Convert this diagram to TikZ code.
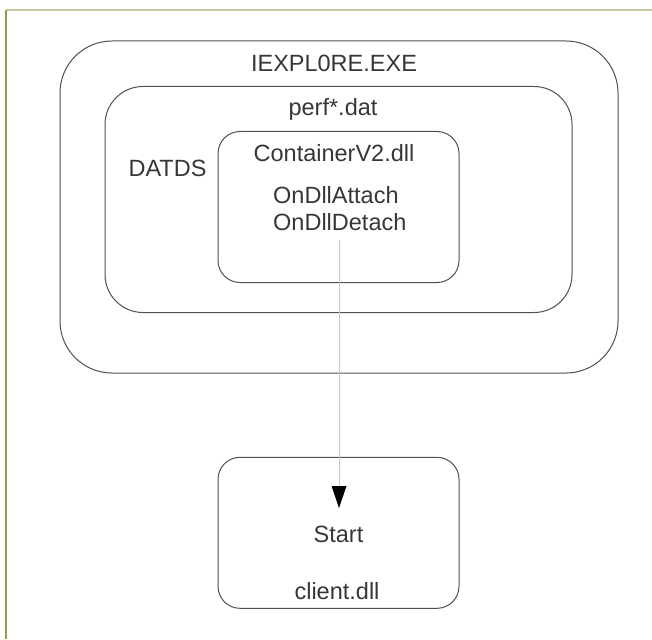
\documentclass[tikz,border=0pt]{standalone}
\usepackage{fontspec}
\setmainfont{Liberation Sans}
\usetikzlibrary{arrows.meta}
\definecolor{boxline}{RGB}{80,80,80}
\definecolor{txt}{RGB}{55,55,55}
\definecolor{topframe}{RGB}{196,200,160}
\definecolor{leftframe}{RGB}{138,160,80}
\definecolor{arrline}{RGB}{200,200,200}
\begin{document}
\begin{tikzpicture}[x=1pt,y=-1pt,
  box/.style={draw=boxline,line width=1pt,rectangle,inner sep=0pt},
  lbl/.style={text=txt,font=\fontsize{23.5}{27}\selectfont,inner sep=0pt,anchor=base}]
\useasboundingbox (0,0) rectangle (652,639);
\fill[white] (0,0) rectangle (652,639);
% frame
\draw[topframe,line width=2pt] (6,10) -- (652,10);
\draw[leftframe,line width=1.5pt] (6,10) -- (6,639);
% boxes
\node[box,rounded corners=52pt,minimum width=558pt,minimum height=332pt] (iexp) at (339,207) {};
\node[box,rounded corners=38pt,minimum width=467pt,minimum height=226pt] (perf) at (338.5,199.5) {};
\node[box,rounded corners=22pt,minimum width=241pt,minimum height=151pt] (cont) at (338.5,207) {};
\node[box,rounded corners=22pt,minimum width=241pt,minimum height=151pt] (client) at (338.5,532.8) {};
% labels
\node[lbl] (tiexp) at (334,71.7) {IEXPL0RE.EXE};
\node[lbl] (tperf) at (333,116) {perf*.dat};
\node[lbl] (tdatds) at (167.5,176.7) {DATDS};
\node[lbl] (tcont) at (334,161.7) {ContainerV2.dll};
\node[lbl,anchor=base west] (tatt) at (273,203) {OnDllAttach};
\node[lbl,anchor=base west] (tdet) at (273,230) {OnDllDetach};
\node[lbl] (tstart) at (338.5,542.7) {Start};
\node[lbl] (tclient) at (337,599.3) {client.dll};
% arrow
\coordinate (as) at (339,240);
\coordinate (ae) at (339,508);
\draw[arrline,line width=0.8pt] (as) -- (339,488);
\fill[black] (331.5,486) -- (346.5,486) -- (ae) -- cycle;
\end{tikzpicture}
\end{document}
